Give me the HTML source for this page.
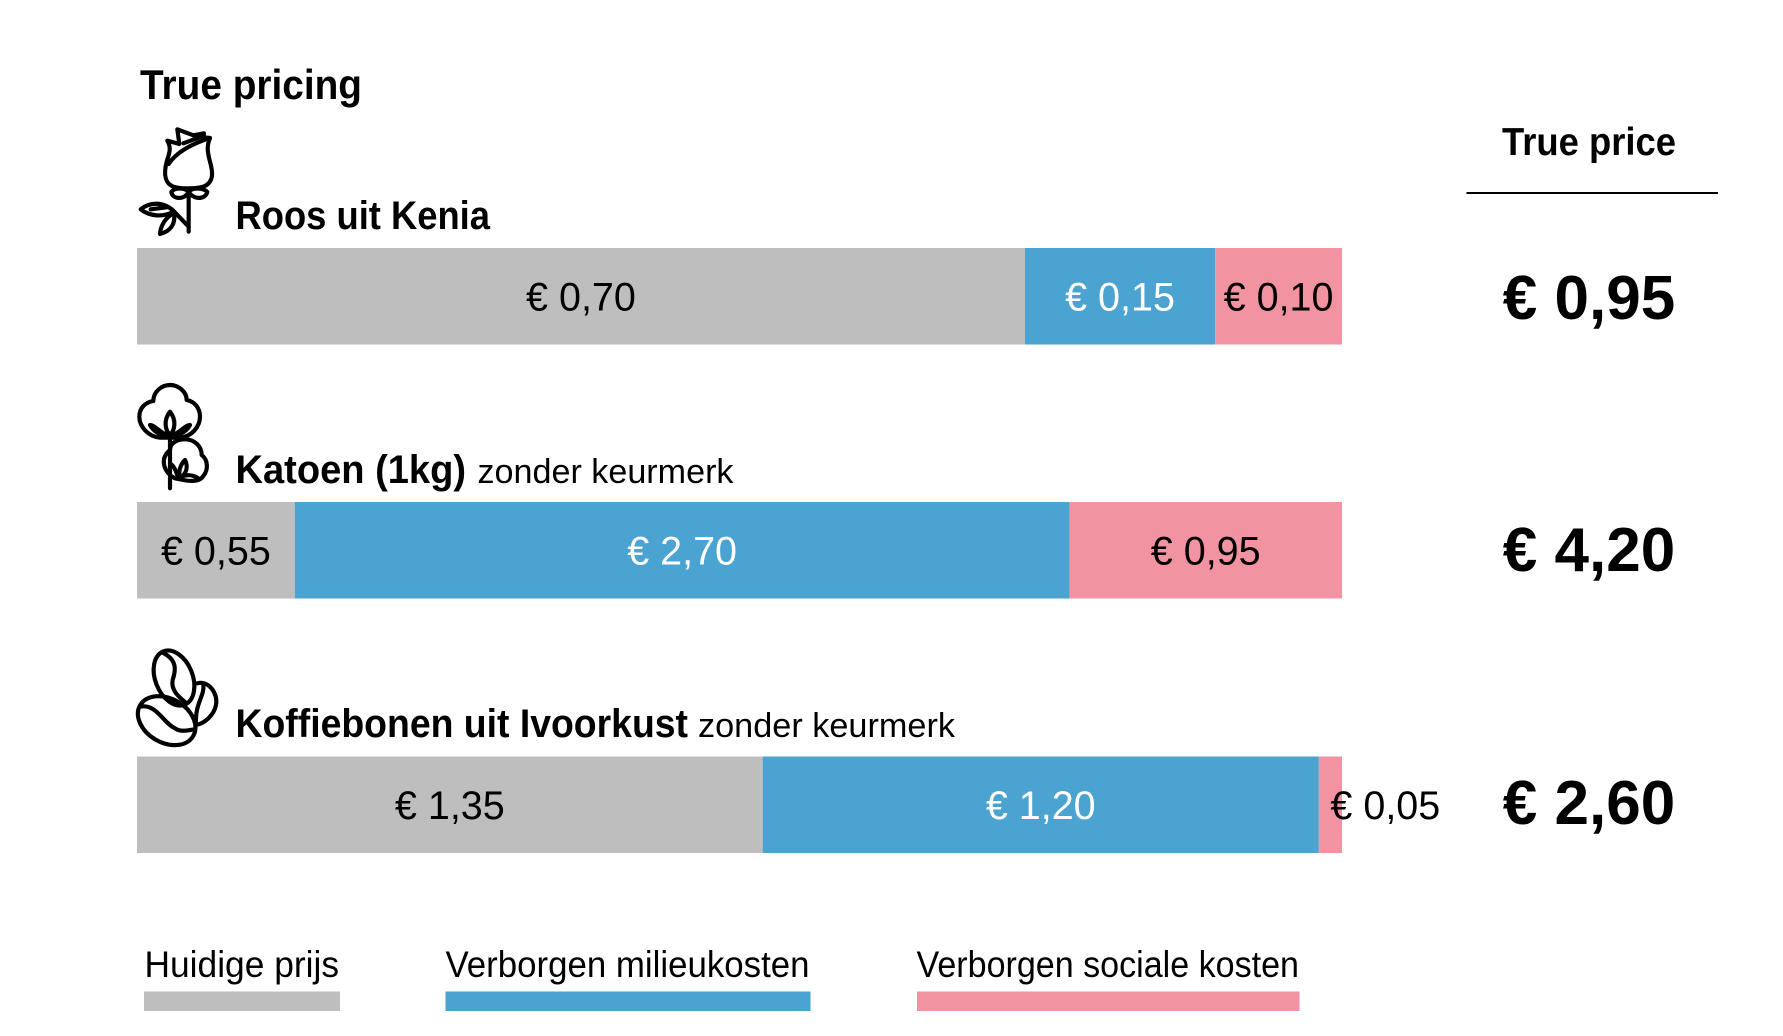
<!DOCTYPE html>
<html lang="nl">
<head>
<meta charset="utf-8">
<title>True pricing</title>
<style>
  html, body { margin: 0; padding: 0; background: #ffffff; }
  svg { display: block; font-family: "Liberation Sans", sans-serif; }
  .bold { font-weight: 700; }
  .icon { fill: none; stroke: #000; stroke-width: 12.5; stroke-linecap: round; stroke-linejoin: round; }
</style>
</head>
<body>
<svg id="chart" width="1783" height="1036" viewBox="0 0 1783 1036" xmlns="http://www.w3.org/2000/svg">
  <text class="bold" x="140" y="99" font-size="42" textLength="222" lengthAdjust="spacingAndGlyphs">True pricing</text>
  <text class="bold" x="1502" y="155" font-size="39" textLength="174" lengthAdjust="spacingAndGlyphs">True price</text>
  <rect x="1466.5" y="192" width="251.5" height="2" fill="#000"/>

  <g class="icon" transform="translate(130,120) scale(0.3333)">
    <path d="M112,62 L148,72 L142,28 L190,46 L222,40 L220,52 L240,54 C230,78 232,95 240,125 C250,160 250,185 225,198 C205,207 150,207 130,200 C105,190 100,165 110,125 C118,100 125,84 112,62 Z"/>
    <path d="M116,132 C140,95 190,70 240,54"/>
    <path d="M160,70 L214,50"/>
    <path d="M176,208 L176,335"/>
    <path d="M176,215 C160,200 130,205 124,216 C128,240 165,240 176,215 Z"/>
    <path d="M176,215 C190,200 222,205 232,216 C225,240 190,240 176,215 Z"/>
    <path d="M176,320 L130,272 C100,245 60,245 32,268 C60,290 100,292 130,275"/>
    <path d="M62,268 L110,262"/>
    <path d="M130,280 C108,292 92,315 90,342 C118,335 138,315 132,280"/>
  </g>
  <text class="bold" x="235.5" y="229" font-size="40" textLength="254.5" lengthAdjust="spacingAndGlyphs">Roos uit Kenia</text>

  <g class="icon" transform="translate(120,370) scale(0.3333)">
    <path d="M100,93 C100,65 125,45 150,45 C175,45 200,65 200,90 C225,95 240,115 240,140 C240,170 215,200 180,203 L120,203 C85,200 58,170 58,140 C58,115 75,97 100,93 Z"/>
    <path d="M150,125 C130,150 135,180 150,195 C165,180 170,150 150,125 Z"/>
    <path d="M150,195 C125,195 105,165 90,165 C100,185 125,200 150,195 M150,195 C175,200 200,185 210,165 C195,165 175,195 150,195"/>
    <path d="M150,205 L150,355"/>
    <path d="M150,240 C150,220 170,208 195,208 C225,208 245,230 245,255 C265,270 265,300 250,318 C240,335 215,335 190,330 L165,325 C135,310 115,270 150,240 Z"/>
    <path d="M150,280 C165,290 170,310 175,325"/>
    <path d="M195,270 C180,285 175,305 180,325 C200,310 205,290 195,270 Z"/>
    <path d="M180,322 C200,312 220,315 235,325"/>
  </g>
  <text class="bold" x="235.5" y="483" font-size="40" textLength="230.5" lengthAdjust="spacingAndGlyphs">Katoen (1kg)</text>
  <text x="477.5" y="483" font-size="34" textLength="256" lengthAdjust="spacingAndGlyphs">zonder keurmerk</text>

  <g class="icon" transform="translate(120,640) scale(0.3333)">
    <ellipse cx="162" cy="114" rx="56" ry="86" transform="rotate(-22 162 114)"/>
    <path d="M128,38 C172,60 168,90 158,120 C152,150 175,170 200,190"/>
    <path d="M232,130 C265,120 295,160 288,195 C282,225 255,250 228,255"/>
    <path d="M250,135 C255,165 225,190 228,250"/>
    <ellipse cx="140" cy="242" rx="92" ry="66" transform="rotate(30 140 242)"/>
    <path d="M60,200 C110,190 130,250 165,265 C185,278 205,270 225,268"/>
  </g>
  <text class="bold" x="235.5" y="737" font-size="40" textLength="452.5" lengthAdjust="spacingAndGlyphs">Koffiebonen uit Ivoorkust</text>
  <text x="698" y="737" font-size="34" textLength="257" lengthAdjust="spacingAndGlyphs">zonder keurmerk</text>

  <g id="bars"></g>
  <g id="totals"></g>

  <g>
    <g>
      <text x="144.5" y="977" font-size="37" textLength="194.5" lengthAdjust="spacingAndGlyphs">Huidige prijs</text>
      <rect x="144" y="991.5" width="196" height="19.5" fill="#bebebe"/>
    </g>
    <g>
      <text x="445.5" y="977" font-size="37" textLength="364" lengthAdjust="spacingAndGlyphs">Verborgen milieukosten</text>
      <rect x="445.5" y="991.5" width="365" height="19.5" fill="#4ba3d2"/>
    </g>
    <g>
      <text x="916.5" y="977" font-size="37" textLength="382.5" lengthAdjust="spacingAndGlyphs">Verborgen sociale kosten</text>
      <rect x="917" y="991.5" width="382.5" height="19.5" fill="#f193a0"/>
    </g>
  </g>
</svg>
<script>
const products = ["roos", "katoen", "koffie"];
const currentPrice = [0.70, 0.55, 1.35];
const environmentCost = [0.15, 2.70, 1.20];
const socialCost = [0.10, 0.95, 0.05];
const truePrice = [0.95, 4.20, 2.60];

const SVG_NS = "http://www.w3.org/2000/svg";
const barLeft = 137, barRight = 1342, barHeight = 96.5;
const barTops = [248, 502, 756.5];
const segmentNames = ["current-price", "environment-cost", "social-cost"];
const segmentFills = ["#bebebe", "#4ba3d2", "#f193a0"];
const segmentText = ["#000000", "#ffffff", "#000000"];

function rowScale(values) {
  const sum = values.reduce((a, b) => a + b, 0);
  return v => barLeft + (v / sum) * (barRight - barLeft);
}
function formatEuro(v) {
  return "€ " + v.toFixed(2).replace(".", ",");
}
function labelBaseline(top) {
  return top + 62.5;
}
function totalBaseline(top) {
  return top + 71 - (top - 248) * 0.0069;
}

const barsLayer = document.getElementById("bars");
const totalsLayer = document.getElementById("totals");

products.forEach((product, r) => {
  const values = [currentPrice[r], environmentCost[r], socialCost[r]];
  const x = rowScale(values);
  let cumulative = 0;
  values.forEach((value, s) => {
    const x0 = x(cumulative);
    const x1 = x(cumulative + value);
    cumulative += value;

    const rect = document.createElementNS(SVG_NS, "rect");
    
    
    rect.setAttribute("x", x0);
    rect.setAttribute("y", barTops[r]);
    rect.setAttribute("width", x1 - x0);
    rect.setAttribute("height", barHeight);
    rect.setAttribute("fill", segmentFills[s]);
    barsLayer.appendChild(rect);
  });

  cumulative = 0;
  values.forEach((value, s) => {
    const x0 = x(cumulative);
    const x1 = x(cumulative + value);
    cumulative += value;
    const narrow = (x1 - x0) < 112;

    const label = document.createElementNS(SVG_NS, "text");
    
    
    label.setAttribute("x", (x0 + x1) / 2);
    label.setAttribute("y", labelBaseline(barTops[r]));
    label.setAttribute("font-size", "39.5");
    label.setAttribute("text-anchor", narrow ? "start" : "middle");
    label.setAttribute("fill", segmentText[s]);
    label.textContent = formatEuro(value);
    barsLayer.appendChild(label);
  });

  const total = document.createElementNS(SVG_NS, "text");
  
  
  total.setAttribute("x", 1589);
  total.setAttribute("y", totalBaseline(barTops[r]));
  total.setAttribute("font-size", "62");
  total.setAttribute("font-weight", "700");
  total.setAttribute("text-anchor", "middle");
  total.textContent = formatEuro(truePrice[r]);
  totalsLayer.appendChild(total);
});
</script>
</body>
</html>
